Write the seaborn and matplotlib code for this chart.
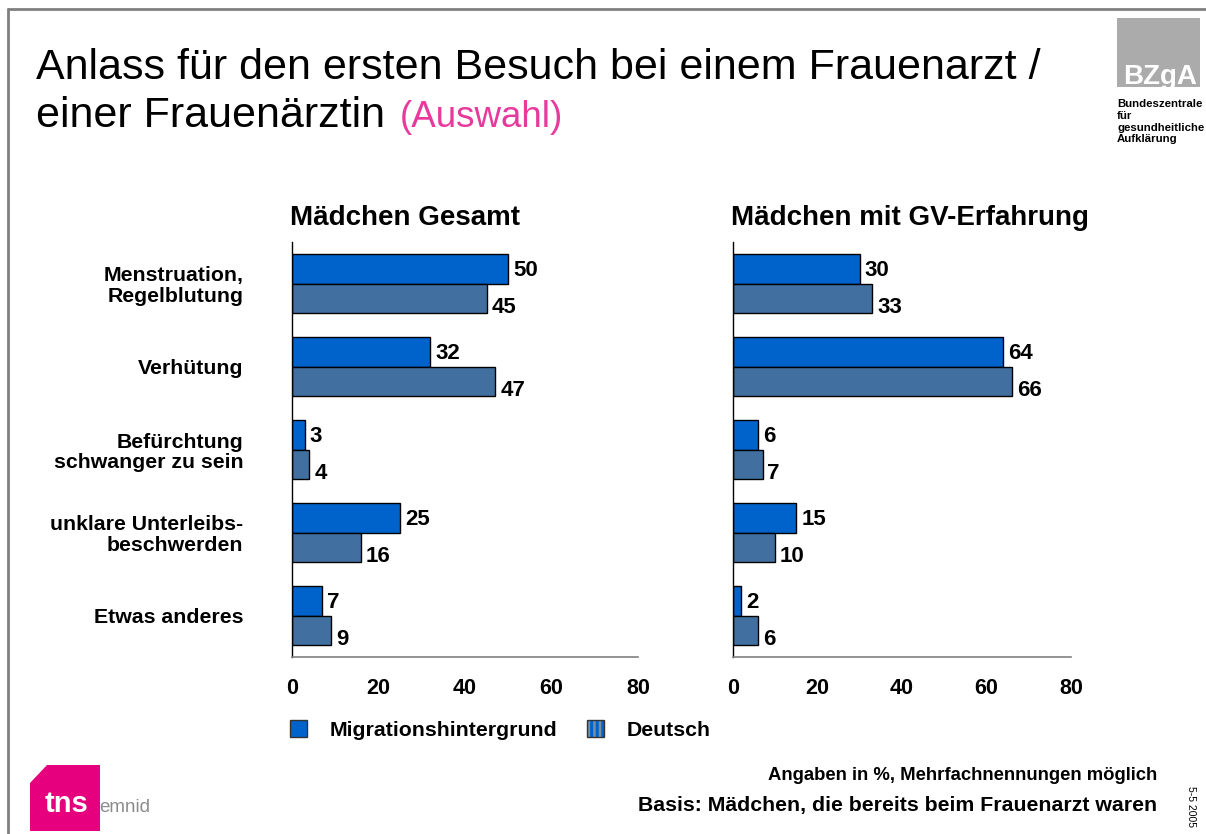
import matplotlib
matplotlib.use("Agg")
import matplotlib.pyplot as plt
import matplotlib.patches as mpatches
from matplotlib.legend_handler import HandlerTuple
import numpy as np
import pandas as pd
import seaborn as sns

# ---------------- data ----------------
categories = ["Menstruation,\nRegelblutung", "Verhütung", "Befürchtung\nschwanger zu sein",
              "unklare Unterleibs-\nbeschwerden", "Etwas anderes"]
groups = ["Migrationshintergrund", "Deutsch"]
gesamt_migration = [50, 32, 3, 25, 7]
gesamt_deutsch = [45, 47, 4, 16, 9]
gv_migration = [30, 64, 6, 15, 2]
gv_deutsch = [33, 66, 7, 10, 6]
panel_titles = ["Mädchen Gesamt", "Mädchen mit GV-Erfahrung"]
x_ticks = [0, 20, 40, 60, 80]

col_mig = "#0063CC"
col_de = "#4170A0"

sns.set_style("white")
plt.rcParams["font.family"] = ["Liberation Sans", "DejaVu Sans"]
plt.rcParams["hatch.linewidth"] = 2.2
for k in ["text.color", "axes.labelcolor", "xtick.labelcolor", "ytick.labelcolor"]:
    plt.rcParams[k] = "black"

W, H = 1206, 834
fig = plt.figure(figsize=(W / 100, H / 100), dpi=100)


def fx(px):
    return px / W


def fy(py):
    return 1 - py / H


def make_df(mig, de):
    return pd.DataFrame({
        "Anlass": categories * 2,
        "Gruppe": [groups[0]] * len(categories) + [groups[1]] * len(categories),
        "Wert": list(mig) + list(de),
    })


ax_top, ax_bot = 242, 657
ax1 = fig.add_axes([fx(292), fy(ax_bot), fx(346), (ax_bot - ax_top) / H])
ax2 = fig.add_axes([fx(733), fy(ax_bot), fx(338), (ax_bot - ax_top) / H])

for ax, (mig, de), title, show_labels in [
    (ax1, (gesamt_migration, gesamt_deutsch), panel_titles[0], True),
    (ax2, (gv_migration, gv_deutsch), panel_titles[1], False),
]:
    df = make_df(mig, de)
    sns.barplot(data=df, x="Wert", y="Anlass", hue="Gruppe", orient="h",
                palette=[col_mig, col_de], saturation=1, width=0.7,
                edgecolor="black", linewidth=1, ax=ax, legend=False,
                order=categories, hue_order=groups, errorbar=None)
    ax.set_xlim(0, 80)
    ax.set_ylim(len(categories) - 0.5, -0.5)
    ax.set_xlabel("")
    ax.set_ylabel("")
    for s in ["top", "right"]:
        ax.spines[s].set_visible(False)
    ax.spines["left"].set_color("black")
    ax.spines["left"].set_linewidth(1)
    ax.spines["bottom"].set_color("#808080")
    ax.spines["bottom"].set_linewidth(1.2)

    ax.set_xticks(x_ticks)
    ax.set_xticklabels([str(t) for t in x_ticks], fontsize=15.5, fontweight="bold")
    ax.tick_params(axis="x", direction="out", length=6, width=1, color="#808080", pad=9,
                   labelcolor="black")

    ax.set_yticks(range(len(categories)))
    ax.set_yticks(np.arange(-0.5, len(categories), 1.0), minor=True)
    if show_labels:
        ax.set_yticklabels(categories, fontsize=15.3, fontweight="bold", linespacing=1.12)
    else:
        ax.set_yticklabels([])
    ax.tick_params(axis="y", which="major", length=0, pad=35, labelcolor="black")
    ax.tick_params(axis="y", which="minor", length=4, width=1, color="#404040", direction="out")

    for i, cont in enumerate(ax.containers):
        anns = ax.bar_label(cont, padding=3.5, fontsize=16, fontweight="bold", color="black",
                            bbox=dict(facecolor="white", edgecolor="none", pad=1.0))
        for a in anns:
            a.xyann = (3.5, -7) if i == 1 else (3.5, -1)

    ax.text(-0.006, 1 + 24 / (ax_bot - ax_top), title, transform=ax.transAxes,
            fontsize=20, fontweight="bold", ha="left", va="center")

# ---------------- title ----------------
fig.text(fx(36), fy(79), "Anlass für den ersten Besuch bei einem Frauenarzt /",
         fontsize=31, ha="left", va="baseline")
fig.text(fx(36), fy(127), "einer Frauenärztin", fontsize=31, ha="left", va="baseline")
fig.text(fx(400), fy(127), "(Auswahl)", fontsize=26.5, color="#E8399C", ha="left", va="baseline")

# ---------------- frame lines ----------------
fig.add_artist(plt.Line2D([fx(8), 1], [fy(9), fy(9)], color="#808080", lw=2, transform=fig.transFigure))
fig.add_artist(plt.Line2D([fx(8), fx(8)], [fy(9), 0], color="#808080", lw=2, transform=fig.transFigure))

# ---------------- BZgA logo ----------------
fig.add_artist(mpatches.Rectangle((fx(1117), fy(87)), fx(83), 69 / H, transform=fig.transFigure,
                                  facecolor="#ABABAB", edgecolor="none"))
fig.text(fx(1160), fy(84), "BZgA", fontsize=20, fontweight="bold", color="white",
         ha="center", va="baseline")
fig.text(fx(1117), fy(99), "Bundeszentrale\nfür\ngesundheitliche\nAufklärung", fontsize=8.2,
         fontweight="bold", ha="left", va="top", linespacing=1.22)

# ---------------- tns emnid logo ----------------
poly = [(30, 783), (47, 765), (100, 765), (100, 831), (30, 831)]
fig.add_artist(mpatches.Polygon([(fx(x), fy(y)) for x, y in poly], closed=True,
                                transform=fig.transFigure, facecolor="#E6007E", edgecolor="none"))
fig.text(fx(45), fy(812), "tns", fontsize=21, fontweight="bold", color="white", ha="left", va="baseline")
fig.text(fx(99), fy(812), "emnid", fontsize=13.5, color="#8C8C8C", ha="left", va="baseline")

# ---------------- legend ----------------
h_mig = mpatches.Patch(facecolor=col_mig, edgecolor="#333333", linewidth=1)
h_de_fill = mpatches.Patch(facecolor="#7F8C99", edgecolor=col_mig, hatch="|||", linewidth=0)
h_de_edge = mpatches.Patch(fill=False, edgecolor="#333333", linewidth=1)
fig.legend([h_mig, (h_de_fill, h_de_edge)], groups, loc="center left",
           bbox_to_anchor=(fx(290), fy(730)), ncol=2, frameon=False, borderpad=0,
           borderaxespad=0, handlelength=0.8, handleheight=0.8, handletextpad=1.05,
           columnspacing=1.4, prop=dict(size=15.3, weight="bold"),
           handler_map={tuple: HandlerTuple(ndivide=1, pad=0)})

# ---------------- footnotes ----------------
fig.text(fx(1157), fy(776), "Angaben in %, Mehrfachnennungen möglich", fontsize=13.3,
         fontweight="bold", ha="right", va="center")
fig.text(fx(1157), fy(806), "Basis: Mädchen, die bereits beim Frauenarzt waren", fontsize=15.3,
         fontweight="bold", ha="right", va="center")
fig.text(fx(1191), fy(806), "5-5 2005", fontsize=7.5, rotation=-90, ha="center", va="center")

fig.savefig("out.png", dpi=100)
